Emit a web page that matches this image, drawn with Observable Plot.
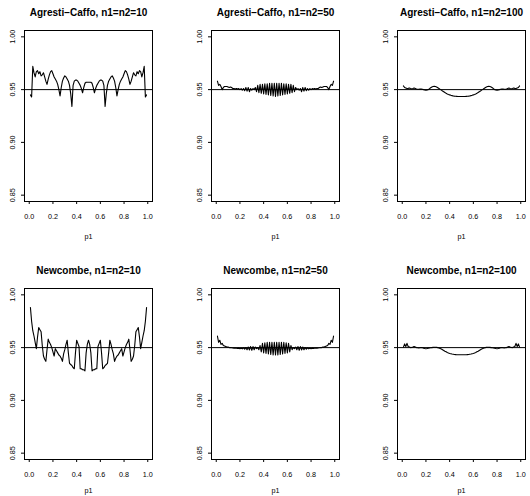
<!DOCTYPE html>
<html><head><meta charset="utf-8">
<script src="https://cdn.jsdelivr.net/npm/d3@7"></script>
<script src="https://cdn.jsdelivr.net/npm/@observablehq/plot@0.6"></script>
<style>
body{margin:0;background:#fff;overflow:hidden}
#wrap{position:relative;width:530px;height:496px;overflow:hidden;background:#fff}
#wrap svg{position:absolute}
</style>
</head><body><div id="wrap"></div>
<script>
const p1Grid = [0.01,0.02,0.03,0.04,0.05,0.06,0.07,0.08,0.09,0.10,
0.11,0.12,0.13,0.14,0.15,0.16,0.17,0.18,0.19,0.20,
0.21,0.22,0.23,0.24,0.25,0.26,0.27,0.28,0.29,0.30,
0.31,0.32,0.33,0.34,0.35,0.36,0.37,0.38,0.39,0.40,
0.41,0.42,0.43,0.44,0.45,0.46,0.47,0.48,0.49,0.50,
0.51,0.52,0.53,0.54,0.55,0.56,0.57,0.58,0.59,0.60,
0.61,0.62,0.63,0.64,0.65,0.66,0.67,0.68,0.69,0.70,
0.71,0.72,0.73,0.74,0.75,0.76,0.77,0.78,0.79,0.80,
0.81,0.82,0.83,0.84,0.85,0.86,0.87,0.88,0.89,0.90,
0.91,0.92,0.93,0.94,0.95,0.96,0.97,0.98,0.99];

const agrestiCaffo10 = [0.945,0.943,0.972,0.966,0.962,0.967,0.968,0.965,0.967,0.963,
0.964,0.966,0.962,0.958,0.955,0.960,0.964,0.967,0.968,0.965,
0.962,0.960,0.958,0.955,0.950,0.944,0.952,0.958,0.961,0.963,
0.962,0.960,0.958,0.954,0.946,0.934,0.954,0.958,0.959,0.959,
0.958,0.956,0.954,0.951,0.947,0.952,0.956,0.957,0.957,0.957,
0.957,0.957,0.956,0.952,0.947,0.951,0.954,0.956,0.958,0.959,
0.959,0.958,0.954,0.934,0.946,0.954,0.958,0.960,0.962,0.963,
0.961,0.958,0.952,0.944,0.950,0.955,0.958,0.960,0.962,0.965,
0.968,0.967,0.964,0.960,0.955,0.958,0.962,0.966,0.964,0.963,
0.967,0.965,0.968,0.967,0.962,0.966,0.972,0.943,0.945];

const agrestiCaffo50 = [0.958,0.954,0.955,0.953,0.950,0.952,0.953,0.953,0.953,0.9525,
0.952,0.9525,0.952,0.951,0.951,0.9505,0.951,0.9505,0.951,0.950,
0.951,0.9495,0.951,0.949,0.952,0.9485,0.952,0.948,0.951,0.9495,
0.951,0.950,0.952,0.948,0.954,0.947,0.955,0.9465,0.955,0.946,
0.9555,0.9455,0.9555,0.945,0.956,0.9445,0.956,0.944,0.956,0.9435,
0.956,0.944,0.956,0.9445,0.956,0.945,0.9555,0.9455,0.9555,
0.946,0.955,0.9465,0.955,0.947,0.954,0.948,0.952,0.950,0.951,
0.9495,0.951,0.948,0.952,0.9485,0.952,0.949,0.951,0.9495,0.951,
0.950,0.951,0.9505,0.951,0.9505,0.951,0.951,0.952,0.9525,0.952,
0.9525,0.953,0.953,0.953,0.952,0.950,0.953,0.955,0.954,0.958];

const agrestiCaffo100 = [0.9535,0.952,0.9515,0.951,0.9512,0.9515,0.951,0.9508,0.951,0.9515,
0.951,0.9505,0.9503,0.9503,0.9505,0.9505,0.9503,0.950,0.9497,0.9495,
0.9497,0.950,0.9508,0.9518,0.9525,0.953,0.9532,0.953,0.9525,0.9518,
0.951,0.9502,0.9495,0.9487,0.948,0.9472,0.9465,0.9459,0.9454,0.945,
0.9446,0.9443,0.944,0.9438,0.9437,0.9436,0.9435,0.9435,0.9435,0.9435,
0.9435,0.9435,0.9435,0.9436,0.9437,0.9438,0.944,0.9443,0.9446,
0.945,0.9454,0.9459,0.9465,0.9472,0.948,0.9487,0.9495,0.9502,0.951,
0.9518,0.9525,0.953,0.9532,0.953,0.9525,0.9518,0.9508,0.950,0.9497,
0.9495,0.9497,0.950,0.9503,0.9505,0.9505,0.9503,0.9503,0.9505,0.951,
0.9515,0.951,0.9508,0.951,0.9515,0.9512,0.951,0.9515,0.952,0.9535];

const newcombe10 = [0.988,0.975,0.966,0.961,0.955,0.949,0.960,0.969,0.967,0.965,
0.952,0.942,0.939,0.937,0.948,0.958,0.955,0.953,0.950,0.946,
0.942,0.949,0.947,0.945,0.943,0.942,0.940,0.937,0.944,0.948,
0.953,0.957,0.945,0.935,0.934,0.933,0.931,0.930,0.945,0.957,
0.954,0.951,0.930,0.930,0.929,0.929,0.928,0.945,0.953,0.957,
0.953,0.945,0.928,0.929,0.929,0.930,0.930,0.951,0.954,
0.957,0.945,0.930,0.931,0.933,0.934,0.935,0.945,0.957,0.953,
0.948,0.944,0.937,0.940,0.942,0.943,0.945,0.947,0.949,0.942,
0.946,0.950,0.953,0.955,0.958,0.948,0.937,0.939,0.942,0.952,
0.965,0.967,0.969,0.960,0.949,0.955,0.961,0.966,0.975,0.988];

const newcombe50 = [0.961,0.955,0.957,0.953,0.954,0.952,0.9515,0.951,0.9505,0.9505,
0.950,0.950,0.9498,0.9497,0.9495,0.9495,0.9494,0.9493,0.9495,0.949,
0.9495,0.9488,0.9498,0.9485,0.950,0.948,0.9505,0.9478,0.951,0.9475,
0.951,0.948,0.9505,0.949,0.950,0.948,0.952,0.946,0.954,0.945,
0.9545,0.9445,0.955,0.944,0.955,0.9435,0.955,0.943,0.955,0.943,
0.955,0.943,0.955,0.9435,0.955,0.944,0.955,0.9445,0.9545,
0.945,0.954,0.946,0.952,0.948,0.950,0.949,0.9505,0.948,0.951,
0.9475,0.951,0.9478,0.9505,0.948,0.950,0.9485,0.9498,0.9488,0.9495,
0.949,0.9495,0.9493,0.9494,0.9495,0.9495,0.9497,0.9498,0.950,0.950,
0.9505,0.9505,0.951,0.9515,0.952,0.954,0.953,0.957,0.955,0.961];

const newcombe100 = [0.9505,0.9535,0.951,0.954,0.951,0.9505,0.950,0.9502,0.9505,0.951,
0.9505,0.950,0.9498,0.9497,0.9498,0.950,0.9498,0.9495,0.9492,0.949,
0.9492,0.9495,0.9497,0.9498,0.950,0.9502,0.9503,0.9503,0.9502,0.950,
0.9497,0.9492,0.9487,0.948,0.9473,0.9466,0.946,0.9454,0.9449,0.9445,
0.9442,0.9439,0.9437,0.9435,0.9434,0.9433,0.9432,0.9432,0.9432,0.9432,
0.9432,0.9432,0.9432,0.9433,0.9434,0.9435,0.9437,0.9439,0.9442,
0.9445,0.9449,0.9454,0.946,0.9466,0.9473,0.948,0.9487,0.9492,0.9497,
0.950,0.9502,0.9503,0.9503,0.9502,0.950,0.9498,0.9497,0.9495,0.9492,
0.949,0.9492,0.9495,0.9498,0.950,0.9498,0.9497,0.9498,0.950,0.9505,
0.951,0.9505,0.9502,0.950,0.9505,0.951,0.954,0.951,0.9535,0.9505];

const titles = ["Agresti\u2212Caffo, n1=n2=10","Agresti\u2212Caffo, n1=n2=50","Agresti\u2212Caffo, n1=n2=100",
                "Newcombe, n1=n2=10","Newcombe, n1=n2=50","Newcombe, n1=n2=100"];
const seriesList = [agrestiCaffo10, agrestiCaffo50, agrestiCaffo100, newcombe10, newcombe50, newcombe100];
const xTicks = [0, 0.2, 0.4, 0.6, 0.8, 1.0];
const yTicks = [0.85, 0.90, 0.95, 1.00];
const nominal = 0.95;
const xLabel = "p1";

const colLeft = [0, 186.7, 373];
const rowTop = [0, 258];
const xLabelDy = [35, 31];
const FONT = "'Liberation Sans', Arial, Helvetica, sans-serif";
const wrap = document.getElementById("wrap");

seriesList.forEach((vals, i) => {
  const row = Math.floor(i / 3);
  const data = p1Grid.map((p, j) => ({p1: p, cov: vals[j]}));
  const chart = Plot.plot({
    width: 157, height: 248,
    marginLeft: 24, marginRight: 5, marginTop: 30, marginBottom: 47,
    style: {fontFamily: FONT, background: "transparent", overflow: "visible", color: "black"},
    x: {domain: [-0.04, 1.04]},
    y: {domain: [0.844, 1.006]},
    marks: [
      Plot.axisX({ticks: xTicks, tickSize: 3, tickPadding: 9, fontSize: 7.2, tickFormat: d => d.toFixed(1), label: null, stroke: "black", fill: "black"}),
      Plot.axisY({ticks: yTicks, tickSize: 3, tickFormat: () => "", label: null, stroke: "black"}),
      Plot.text(yTicks, {y: d => d, text: d => d.toFixed(2), frameAnchor: "left", dx: -12, rotate: -90, fontSize: 7.2, textAnchor: "middle", lineAnchor: "middle", fill: "black"}),
      Plot.ruleY([nominal], {stroke: "black", strokeWidth: 1}),
      Plot.line(data, {x: "p1", y: "cov", stroke: "black", strokeWidth: 1.1}),
      Plot.frame({stroke: "black", strokeWidth: 1}),
      Plot.text([titles[i]], {frameAnchor: "top", dy: -18, fontWeight: "bold", fontSize: 10, lineAnchor: "middle", fill: "black"}),
      Plot.text([xLabel], {frameAnchor: "bottom", dy: xLabelDy[row], fontSize: 7.2, lineAnchor: "middle", fill: "black"})
    ]
  });
  chart.style.left = colLeft[i % 3] + "px";
  chart.style.top = rowTop[row] + "px";
  wrap.appendChild(chart);
});
</script>
</body></html>
